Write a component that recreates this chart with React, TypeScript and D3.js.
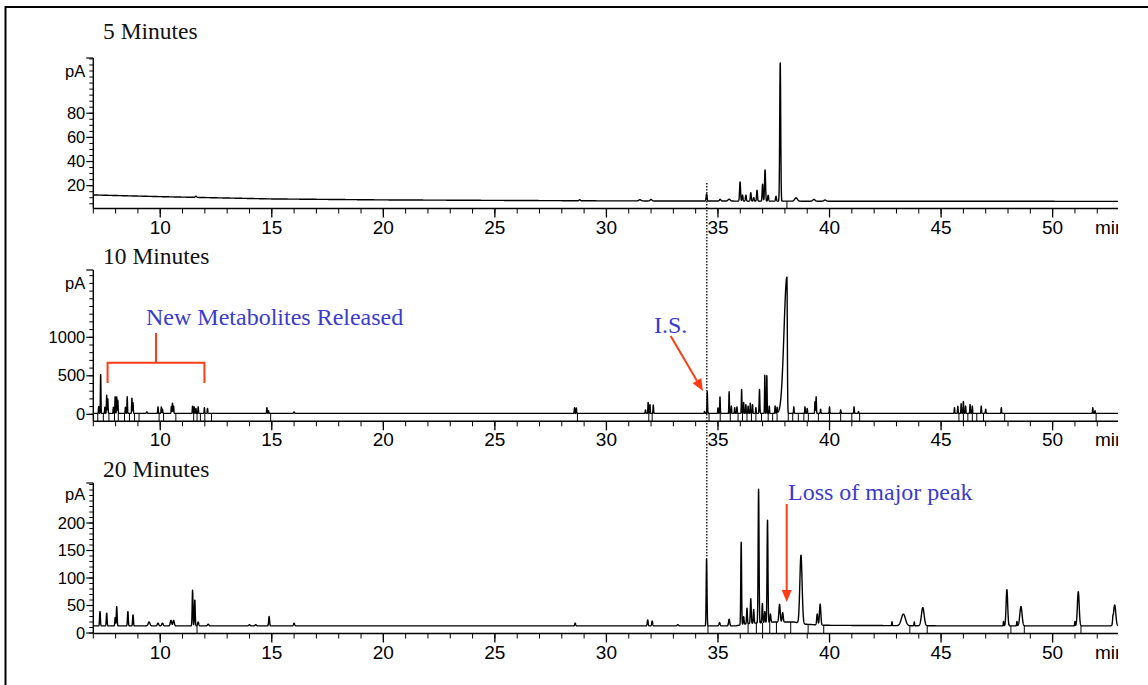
import React from "react";
import * as d3 from "d3";

// ---------- DATA ----------
const xMajorTicks = [10, 15, 20, 25, 30, 35, 40, 45, 50];
const panelTitles = ["5 Minutes", "10 Minutes", "20 Minutes"];

// y tick labels per panel
const yLabels5 = [20, 40, 60, 80];
const yLabels10 = [0, 500, 1000];
const yLabels20 = [0, 50, 100, 150, 200];

// baselines: [time, pA]
const base5: [number, number][] = [[7, 12.3], [10, 10.9], [15, 9], [20, 8.2], [30, 7.4], [40, 7.1], [52.93, 7]];
const base10: [number, number][] = [[7, 12], [52.93, 12]];
const base20: [number, number][] = [[7, 13], [35.8, 13], [36.3, 17], [37.5, 20], [38.4, 20], [38.9, 16], [39.8, 14], [45, 13], [52.93, 13]];

// peaks: [time, height above baseline, width(left), width(right)?]
const peaks5: number[][] = [
  [11.6, 1, 0.03], [28.8, 0.8, 0.03], [31.5, 1, 0.05], [32.0, 1.2, 0.04],
  [34.49, 6, 0.02], [35.1, 1.5, 0.03], [35.5, 1.5, 0.05], [35.99, 16, 0.022],
  [36.1, 5, 0.02], [36.25, 5, 0.02], [36.47, 7, 0.02], [36.6, 3, 0.02],
  [36.75, 9, 0.02], [37.0, 14, 0.02], [37.11, 26, 0.022], [37.25, 5, 0.02],
  [37.6, 4, 0.02], [37.79, 115, 0.022], [38.5, 2.8, 0.06], [39.3, 1.5, 0.05], [39.8, 1, 0.05],
];

const peaks10: number[][] = [
  [7.24, 90, 0.012], [7.33, 510, 0.012], [7.52, 80, 0.012], [7.6, 235, 0.012], [7.65, 190, 0.012],
  [7.9, 80, 0.012], [7.98, 215, 0.012], [8.05, 215, 0.012], [8.1, 170, 0.012], [8.44, 80, 0.012],
  [8.52, 215, 0.012], [8.73, 200, 0.012], [8.78, 140, 0.012], [9.4, 20, 0.02], [9.9, 85, 0.012],
  [10.05, 85, 0.012], [10.1, 55, 0.012], [10.5, 90, 0.012], [10.55, 135, 0.012], [10.6, 95, 0.012],
  [11.45, 95, 0.012], [11.52, 85, 0.012], [11.6, 65, 0.012], [11.7, 85, 0.012], [11.98, 75, 0.012],
  [12.12, 65, 0.012], [14.78, 75, 0.012], [14.85, 35, 0.012], [16.0, 18, 0.02],
  [28.57, 75, 0.012], [28.65, 70, 0.012], [31.75, 45, 0.012], [31.87, 145, 0.012], [31.95, 115, 0.012],
  [32.1, 110, 0.012], [34.4, 25, 0.012], [34.52, 280, 0.012], [35.0, 70, 0.012], [35.09, 215, 0.012],
  [35.5, 280, 0.012], [35.6, 95, 0.012], [35.75, 75, 0.012], [35.85, 85, 0.012], [36.06, 310, 0.012],
  [36.15, 145, 0.012], [36.25, 115, 0.012], [36.35, 95, 0.012], [36.45, 135, 0.012], [36.55, 115, 0.012],
  [36.7, 75, 0.012], [36.86, 310, 0.015], [37.1, 495, 0.012], [37.19, 495, 0.012], [37.3, 95, 0.012],
  [37.56, 95, 0.012], [37.65, 75, 0.012], [38.09, 1770, 0.13, 0.018], [38.4, 85, 0.012], [38.9, 85, 0.012],
  [39.0, 65, 0.012], [39.35, 155, 0.012], [39.4, 215, 0.012], [39.6, 55, 0.012], [40.0, 85, 0.012],
  [40.5, 45, 0.012], [41.1, 85, 0.012], [41.3, 25, 0.012], [45.6, 75, 0.012], [45.75, 95, 0.012],
  [45.9, 125, 0.012], [46.0, 155, 0.012], [46.1, 95, 0.012], [46.3, 115, 0.012], [46.4, 95, 0.012],
  [46.8, 95, 0.012], [47.0, 55, 0.012], [47.7, 75, 0.012], [51.8, 75, 0.012], [51.9, 35, 0.012],
];

const peaks20: number[][] = [
  [7.3, 26, 0.018], [7.6, 23, 0.018], [7.98, 15, 0.015], [8.05, 35, 0.018], [8.55, 26, 0.018],
  [8.78, 20, 0.018], [9.5, 7, 0.04], [9.9, 5, 0.03], [10.1, 5, 0.03], [10.48, 10, 0.03],
  [10.6, 10, 0.03], [11.45, 65, 0.018], [11.55, 47, 0.018], [11.7, 7, 0.025], [12.15, 3, 0.03],
  [14.0, 2, 0.03], [14.28, 2, 0.03], [14.88, 17, 0.02], [16.0, 5, 0.025], [28.6, 5, 0.02],
  [31.85, 11, 0.02], [32.05, 9, 0.02], [33.2, 2, 0.03], [34.49, 123, 0.018], [35.07, 6, 0.025],
  [35.5, 12, 0.025], [36.04, 150, 0.018], [36.15, 14, 0.018], [36.3, 28, 0.018], [36.47, 45, 0.02],
  [36.6, 25, 0.018], [36.82, 243, 0.02], [36.99, 35, 0.018], [37.1, 20, 0.018], [37.22, 186, 0.02],
  [37.35, 15, 0.02], [37.76, 32, 0.03], [37.9, 17, 0.025], [38.72, 124, 0.05], [39.45, 20, 0.025],
  [39.58, 38, 0.03], [42.8, 7, 0.012], [43.31, 21, 0.09], [43.8, 7, 0.012], [44.18, 33, 0.06],
  [47.8, 8, 0.012], [47.95, 66, 0.035], [48.4, 8, 0.012], [48.58, 35, 0.05], [51.0, 8, 0.012],
  [51.15, 62, 0.04], [52.7, 8, 0.012], [52.78, 38, 0.05],
];

// integration (baseline) markers
const marks5 = [38.09];
const marks10 = [7.2, 7.45, 7.7, 7.95, 8.12, 8.4, 8.62, 8.85, 9.05, 9.95, 10.15, 10.7, 11.5, 11.65, 11.8, 12.0, 12.3, 14.95,
  28.7, 31.9, 32.05, 34.6, 35.1, 35.55, 35.9, 36.1, 36.3, 36.5, 36.7, 36.95, 37.25, 37.45, 37.65, 38.15, 38.35, 38.6,
  38.85, 39.05, 39.5, 40.0, 40.5, 41.0, 41.35, 45.8, 46.0, 46.2, 46.4, 46.6, 46.9, 47.85, 51.95];
const marks20 = [11.65, 34.55, 36.35, 36.72, 37.0, 37.32, 37.62, 38.26, 39.04, 39.74, 43.6, 44.38, 48.13, 48.73, 51.27];

// ---------- LAYOUT ----------
const W = 1148, H = 685;
const X0 = 93.3, X1 = 1118;
const xDomain: [number, number] = [7, 52.93];
const x = d3.scaleLinear().domain(xDomain).range([X0, X1]);

const panels = [
  { title: panelTitles[0], titleY: 39, zeroY: 209.8, pxPer: 1.207, top: 58, axisY: 208.5, labels: yLabels5, minorStep: 5, yMax: 125, base: base5, peaks: peaks5, marks: marks5, pAY: 77 },
  { title: panelTitles[1], titleY: 264, zeroY: 414.3, pxPer: 0.077, top: 270, axisY: 421.3, labels: yLabels10, minorStep: 100, yMax: 1870, base: base10, peaks: peaks10, marks: marks10, pAY: 289 },
  { title: panelTitles[2], titleY: 477, zeroY: 633, pxPer: 0.55, top: 483, axisY: 633.5, labels: yLabels20, minorStep: 10, yMax: 272, base: base20, peaks: peaks20, marks: marks20, pAY: 500 },
];

const sansFont = "'Liberation Sans', Arial, Helvetica, sans-serif";
const serifFont = "'Liberation Serif', 'Times New Roman', serif";
const BLUE = "#3b3bcf";
const RED = "#ff3c16";

function buildTrace(base: [number, number][], peaks: number[][]) {
  const bl = d3.scaleLinear().domain(base.map((b) => b[0])).range(base.map((b) => b[1])).clamp(true);
  const pts: [number, number][] = [];
  const step = 0.004;
  for (let t = xDomain[0]; t <= xDomain[1]; t += step) {
    let v = bl(t);
    for (const p of peaks) {
      const d = t - p[0];
      const w = d < 0 ? p[2] : (p[3] ?? p[2]);
      if (Math.abs(d) < w * 6) v += p[1] * Math.exp(-(d * d) / (2 * w * w));
    }
    pts.push([t, v]);
  }
  return { pts, bl };
}

function Panel({ cfg }: { cfg: typeof panels[number] }) {
  const y = d3.scaleLinear().domain([0, cfg.yMax]).range([cfg.zeroY, cfg.zeroY - cfg.yMax * cfg.pxPer]);
  const { pts, bl } = buildTrace(cfg.base, cfg.peaks);
  const line = d3.line<[number, number]>().x((d) => x(d[0])).y((d) => Math.min(y(d[1]), cfg.axisY));
  const minorX = d3.range(7, 53, 1);
  const minorY = d3.range(0, cfg.yMax + 0.001, cfg.minorStep).filter((v) => y(v) >= cfg.top - 0.5 && y(v) <= cfg.axisY + 0.5);
  return (
    <g>
      <text x={103} y={cfg.titleY} fontFamily={serifFont} fontSize={23.5} fill="#111">{cfg.title}</text>
      {/* y axis */}
      <line x1={X0} x2={X0} y1={cfg.top} y2={cfg.axisY} stroke="#000" strokeWidth={1.4} />
      {minorY.map((v) => (
        <line key={"my" + v} x1={X0 - 4} x2={X0} y1={y(v)} y2={y(v)} stroke="#000" strokeWidth={1} />
      ))}
      {cfg.labels.map((v) => (
        <g key={"ly" + v}>
          <line x1={X0 - 7} x2={X0} y1={y(v)} y2={y(v)} stroke="#000" strokeWidth={1.2} />
          <text x={X0 - 8} y={y(v) + 5.5} textAnchor="end" fontFamily={sansFont} fontSize={16.5} fill="#000">{v}</text>
        </g>
      ))}
      <line x1={X0 - 7} x2={X0} y1={cfg.top} y2={cfg.top} stroke="#000" strokeWidth={1.2} />
      <text x={X0 - 8} y={cfg.pAY} textAnchor="end" fontFamily={sansFont} fontSize={16.5} fill="#000">pA</text>
      {/* x axis */}
      <line x1={X0} x2={X1} y1={cfg.axisY} y2={cfg.axisY} stroke="#000" strokeWidth={1.4} />
      {minorX.map((t) => (
        <line key={"mx" + t} x1={x(t)} x2={x(t)} y1={cfg.axisY} y2={cfg.axisY + 5} stroke="#000" strokeWidth={1} />
      ))}
      {xMajorTicks.map((t) => (
        <g key={"lx" + t}>
          <line x1={x(t)} x2={x(t)} y1={cfg.axisY} y2={cfg.axisY + 9} stroke="#000" strokeWidth={1.3} />
          <text x={x(t)} y={cfg.axisY + 25} textAnchor="middle" fontFamily={sansFont} fontSize={19} fill="#000">{t}</text>
        </g>
      ))}
      <text x={1095} y={cfg.axisY + 25} fontFamily={sansFont} fontSize={19} fill="#000" clipPath="url(#minclip)">min</text>
      {/* integration marks */}
      {cfg.marks.map((t, i) => (
        <line key={"im" + i} x1={x(t)} x2={x(t)} y1={y(bl(t))} y2={cfg.axisY} stroke="#000" strokeWidth={1} />
      ))}
      {/* trace */}
      <path d={line(pts) || ""} fill="none" stroke="#000" strokeWidth={1.4} strokeLinejoin="round" />
    </g>
  );
}

function Arrow({ x1, y1, x2, y2 }: { x1: number; y1: number; x2: number; y2: number }) {
  const ang = Math.atan2(y2 - y1, x2 - x1);
  const L = 12, Wd = 5;
  const bx = x2 - L * Math.cos(ang), by = y2 - L * Math.sin(ang);
  const px = -Math.sin(ang) * Wd, py = Math.cos(ang) * Wd;
  return (
    <g>
      <line x1={x1} y1={y1} x2={bx} y2={by} stroke={RED} strokeWidth={2} />
      <polygon points={`${x2},${y2} ${bx + px},${by + py} ${bx - px},${by - py}`} fill={RED} />
    </g>
  );
}

export default function App() {
  const dotX = x(34.5);
  return (
    <svg width={W} height={H} style={{ position: "absolute", left: 0, top: 0, background: "#fff" }}>
      <defs>
        <clipPath id="minclip">
          <rect x={1080} y={0} width={X1 - 1080} height={H} />
        </clipPath>
      </defs>
      <rect x={0} y={0} width={W} height={H} fill="#fff" />
      {/* frame */}
      <line x1={5.5} x2={W} y1={7} y2={7} stroke="#000" strokeWidth={2} />
      <line x1={5.5} x2={5.5} y1={6} y2={H} stroke="#000" strokeWidth={2} />
      {panels.map((p, i) => (
        <Panel key={i} cfg={p} />
      ))}
      {/* dotted reference line */}
      <line x1={dotX} x2={dotX} y1={183} y2={558} stroke="#000" strokeWidth={1.3} strokeDasharray="1.5,1.5" />
      {/* annotations */}
      <text x={146} y={325} fontFamily={serifFont} fontSize={24} fill={BLUE}>New Metabolites Released</text>
      <path d={`M${x(7.64)},383 V362.7 H${x(11.98)} V383 M${x(9.81)},362.7 V333`} fill="none" stroke={RED} strokeWidth={2} />
      <text x={654} y={333} fontFamily={serifFont} fontSize={24} fill={BLUE}>I.S.</text>
      <Arrow x1={670.7} y1={336} x2={703} y2={391} />
      <text x={788} y={500} fontFamily={serifFont} fontSize={24} fill={BLUE}>Loss of major peak</text>
      <Arrow x1={786.7} y1={504} x2={786.7} y2={602} />
    </svg>
  );
}
